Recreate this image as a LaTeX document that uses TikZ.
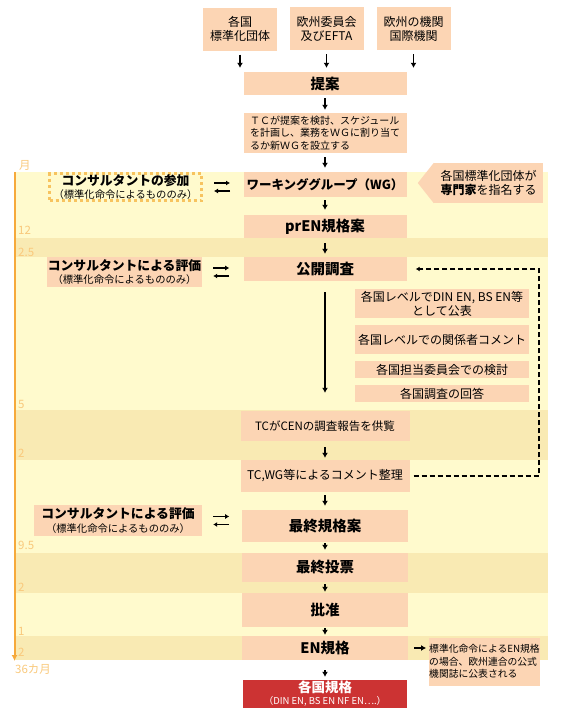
\documentclass[tikz,border=0pt]{standalone}
\usepackage{fontspec}
\setmainfont{Noto Sans CJK JP}
\usetikzlibrary{calc,arrows.meta}
\definecolor{bandhell}{HTML}{FFFACD}
\definecolor{banddunkel}{HTML}{F9EAB3}
\definecolor{pfirsich}{HTML}{FCD5B4}
\definecolor{zeitachse}{HTML}{F6A93B}
\definecolor{zeittext}{HTML}{F9C97C}
\definecolor{punktrand}{HTML}{F7C35F}
\definecolor{normrot}{HTML}{CC3333}
\tikzset{
  box/.style={fill=pfirsich, inner sep=0pt, align=center, font=\fontsize{12}{14}\selectfont},
  stufe/.style={box, minimum width=166pt, font=\bfseries\fontsize{14.5}{17}\selectfont},
  quelle/.style={box, minimum width=74pt, minimum height=43pt},
  land/.style={box, minimum width=174pt},
  berater/.style={box, font=\bfseries\fontsize{12.8}{13.5}\selectfont, minimum width=155pt, minimum height=30pt},
  flow/.style={-{Latex[length=5pt,width=6pt]}, line width=1.5pt, draw=black},
  wechsel/.style={-{Latex[length=4pt,width=5pt]}, line width=1.6pt, draw=black},
  schleife/.style={-{Latex[length=4pt,width=5pt]}, line width=1.6pt, draw=black, dash pattern=on 5pt off 3pt},
  zeitpfeil/.style={-{Latex[length=6pt,width=6pt]}, line width=2pt, draw=zeitachse},
  zeitlabel/.style={anchor=west, inner sep=0pt, text=zeittext, font=\fontsize{11.5}{13}\selectfont},
}
\newcommand{\klein}{\fontsize{10.3}{11}\selectfont\mdseries}

\begin{document}
\begin{tikzpicture}[x=1pt, y=-1pt]
  \useasboundingbox (0,0) rectangle (560,720);
  % Zeitbänder hell/dunkel
  \fill[bandhell] (14,172) rectangle (548,660);
  \foreach \oben/\unten in {238/257, 410/460, 553/593, 636/660}
    \fill[banddunkel] (14,\oben) rectangle (548,\unten);
  % Zeitachse links, Monate
  \draw[zeitpfeil] (14.5,172) -- (14.5,661);
  \foreach \x/\y/\txt [count=\i] in {19/165/月, 18/230/12, 18/252/2.5, 18/404/5, 18/453/2,
      18/545/9.5, 18/587/2, 18/631/1, 18/652/2, 15/669/36カ月}
    \node[zeitlabel] (zeit\i) at (\x,\y) {\txt};
  % Antragsteller oben
  \node[quelle] (quelleA) at (240,29) {各国\\標準化団体};
  \node[quelle] (quelleB) at (326.5,28.5) {欧州委員会\\及びEFTA};
  \node[quelle] (quelleC) at (413.5,28.5) {欧州の機関\\国際機関};
  % Hauptablauf
  \node[stufe, minimum width=163pt, minimum height=23pt] (vorschlag) at (325,83.5) {提案};
  \node[box, minimum width=163pt, minimum height=40pt, align=left, font=\fontsize{10}{12.5}\selectfont] (tcplan) at (325,133)
    {ＴＣが提案を検討、スケジュール\\を計画し、業務をＷＧに割り当て\\るか新ＷＧを設立する};
  \node[stufe, minimum width=163pt, minimum height=25pt, font=\bfseries\fontsize{12.5}{14}\selectfont] (wg) at (325,184.5) {ワーキンググループ（WG）};
  \node[stufe, minimum width=163pt, minimum height=23pt] (pren) at (325,226.5) {prEN規格案};
  \node[stufe, minimum width=163pt, minimum height=24pt] (umfrage) at (325,269) {公開調査};
  \node[box, minimum width=169pt, minimum height=30pt, font=\fontsize{11.5}{13}\selectfont] (bericht) at (325,426) {TCがCENの調査報告を供覧};
  \node[box, minimum width=169pt, minimum height=32pt] (kommentar) at (325,476) {TC,WG等によるコメント整理};
  \node[stufe, minimum height=32pt] (schluss) at (325,526) {最終規格案};
  \node[stufe, minimum height=29pt] (abstimmung) at (325,567.5) {最終投票};
  \node[stufe, minimum height=34pt] (annahme) at (325,610) {批准};
  \node[stufe, minimum height=24pt] (ennorm) at (325,648) {EN規格};
  \node[box, fill=normrot, text=white, minimum width=164pt, minimum height=28pt, font=\bfseries\fontsize{13.5}{13}\selectfont] (national) at (325,694)
    {各国規格\\[-1pt]{\fontsize{9.5}{9}\selectfont\mdseries （DIN EN, BS EN NF EN….）}};
  % Nationale Schritte rechts
  \node[land, minimum height=29pt] (natpub) at (442,303.5) {各国レベルでDIN EN, BS EN等\\として公表};
  \node[land, minimum height=29pt] (natkom) at (442,339.5) {各国レベルでの関係者コメント};
  \node[land, minimum height=17pt] (natpruef) at (442,369.5) {各国担当委員会での検討};
  \node[land, minimum height=17pt] (natantw) at (442,393.5) {各国調査の回答};
  % Berater links
  \node[berater, fill=bandhell, draw=punktrand, line width=3pt, dash pattern=on 3pt off 3pt, minimum width=152pt, minimum height=27pt] (berater1) at (125.5,187)
    {コンサルタントの参加\\{\klein （標準化命令によるもののみ）}};
  \node[berater] (berater2) at (124.5,272) {コンサルタントによる評価\\{\klein （標準化命令によるもののみ）}};
  \node[berater, minimum width=168pt, minimum height=31pt] (berater3) at (118,520.5) {コンサルタントによる評価\\{\klein （標準化命令によるもののみ）}};
  % Experten-Hinweis mit Spitze
  \node[box, minimum width=109pt, minimum height=40pt] (experten) at (488.5,183) {各国標準化団体が\\\textbf{専門家}を指名する};
  \fill[pfirsich] (experten.north west) -- ($(experten.west)+(-16,0)$) -- (experten.south west) -- cycle;
  % Hinweis Amtsblatt
  \node[box, minimum width=107pt, minimum height=48pt, align=left, font=\fontsize{9.8}{12.5}\selectfont] (hinweis) at (484.5,661.5)
    {標準化命令によるEN規格\\の場合、欧州連合の公式\\機関誌に公表される};
  % Pfeile
  \foreach \q in {quelleA,quelleB,quelleC}
    \draw[flow, shorten <=4pt, shorten >=4pt] (\q.south) -- (\q.south |- vorschlag.north);
  \foreach \a/\b/\s/\e in {vorschlag/tcplan/3/3, tcplan/wg/4/4, wg/pren/3/5, pren/umfrage/5/3,
      umfrage/bericht/11/18, bericht/kommentar/6/2, kommentar/schluss/3/4, schluss/abstimmung/1/3,
      abstimmung/annahme/2/1, annahme/ennorm/1/1, ennorm/national/10/3}
    \draw[flow, shorten <=\s pt, shorten >=\e pt] (\a) -- (\b);
  \foreach \b in {berater1,berater2,berater3}{
    \draw[wechsel] ($(\b.east)+(11,-4)$) -- ($(\b.east)+(27,-4)$);
    \draw[wechsel] ($(\b.east)+(27,4)$) -- ($(\b.east)+(11,4)$);
  }
  \coordinate (rueck) at (539,0);
  \draw[schleife, shorten <=4pt, shorten >=9pt] (kommentar.east) -| (rueck |- umfrage.east) -- (umfrage.east);
  \draw[flow, shorten <=6pt, shorten >=3pt] (ennorm.east) -- (ennorm.east -| hinweis.west);
\end{tikzpicture}
\end{document}
